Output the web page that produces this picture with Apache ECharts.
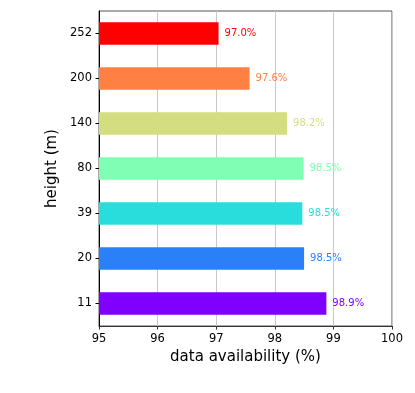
<!DOCTYPE html>
<html><head><meta charset="utf-8">
<script src="https://cdn.jsdelivr.net/npm/echarts@6/dist/echarts.min.js"></script>
<style>html,body{margin:0;padding:0;background:#fff}#c{width:415px;height:393px}</style>
</head><body><div id="c"></div>
<script>
const heights = ['11','20','39','80','140','200','252'];
const availability = [98.88, 98.50, 98.47, 98.49, 98.21, 97.57, 97.04];
const barColors = ['#8000ff','#2a80f6','#2adddd','#80ffb4','#d4dd80','#ff8042','#ff0000'];
const xTicks = [95, 96, 97, 98, 99, 100];

const chart = echarts.init(document.getElementById('c'), null, {renderer:'canvas'});
const font = 'DejaVu Sans';
chart.setOption({
  animation: false,
  grid: {left: 99, right: 23, top: 11, bottom: 67, show: true, borderColor: '#555', borderWidth: 1},
  xAxis: {
    type: 'value', min: xTicks[0], max: xTicks[xTicks.length-1], interval: 1,
    name: 'data availability (%)', nameLocation: 'middle', nameGap: 19,
    nameTextStyle: {fontFamily: font, fontSize: 15, color: '#000'},
    axisLine: {show: true, lineStyle: {color: '#333', width: 1}},
    axisTick: {show: true, length: 3.5, lineStyle: {color: '#333'}},
    axisLabel: {fontFamily: font, fontSize: 11.5, color: '#000', margin: 7},
    splitLine: {show: true, lineStyle: {color: '#c8c8c8', width: 1}}
  },
  yAxis: {
    type: 'category', data: heights,
    name: 'height (m)', nameLocation: 'middle', nameGap: 32,
    nameTextStyle: {fontFamily: font, fontSize: 15, color: '#000'},
    axisLine: {show: true, lineStyle: {color: '#000', width: 1}},
    axisTick: {show: true, length: 3.5, alignWithLabel: true, lineStyle: {color: '#000'}},
    axisLabel: {fontFamily: font, fontSize: 11.5, color: '#000', margin: 7},
    splitLine: {show: false}
  },
  series: [{
    type: 'bar', barWidth: '50%',
    data: availability.map((v, i) => ({value: v, itemStyle: {color: barColors[i]},
      label: {color: barColors[i]}})),
    label: {show: true, position: 'right', distance: 6, fontFamily: font, fontSize: 10,
      formatter: p => p.value.toFixed(1) + '%'}
  }]
});
</script></body></html>
